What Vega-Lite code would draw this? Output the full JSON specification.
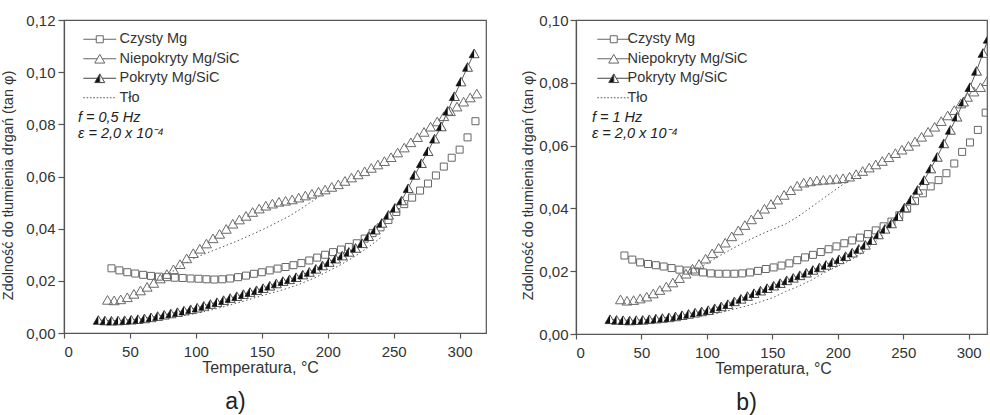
{
  "$schema": "https://vega.github.io/schema/vega-lite/v6.json",
  "background": "white",
  "padding": {"left": 0, "top": 12, "right": 0, "bottom": 0},
  "config": {
    "font": "Liberation Sans",
    "view": {"stroke": "#555", "strokeWidth": 1.2},
    "axis": {
      "grid": false,
      "domainColor": "#555",
      "domainWidth": 1.2,
      "tickColor": "#555",
      "tickWidth": 1.2,
      "labelFont": "Liberation Sans",
      "labelFontSize": 15,
      "labelColor": "#333",
      "titleFont": "Liberation Sans",
      "titleFontSize": 16,
      "titleFontWeight": "normal",
      "titleColor": "#333"
    },
    "legend": {
      "orient": "none",
      "padding": 0,
      "labelFont": "Liberation Sans",
      "labelFontSize": 14.5,
      "labelColor": "#333",
      "rowPadding": 4.5,
      "symbolSize": 49,
      "symbolStrokeWidth": 1,
      "symbolOpacity": 1
    },
    "title": {"font": "Liberation Sans", "fontSize": 23, "fontWeight": "normal", "color": "#222"}
  },
  "resolve": {
    "scale": {"shape": "independent", "fill": "independent", "stroke": "independent"},
    "legend": {"shape": "independent", "fill": "independent", "stroke": "independent"}
  },
  "spacing": 33,
  "datasets": {
    "a": [
      {"series": "Czysty Mg", "temp": 36, "value": 0.0248},
      {"series": "Czysty Mg", "temp": 42, "value": 0.0240},
      {"series": "Czysty Mg", "temp": 48, "value": 0.0233},
      {"series": "Czysty Mg", "temp": 54, "value": 0.0228},
      {"series": "Czysty Mg", "temp": 60, "value": 0.0223},
      {"series": "Czysty Mg", "temp": 66, "value": 0.0219},
      {"series": "Czysty Mg", "temp": 72, "value": 0.0216},
      {"series": "Czysty Mg", "temp": 78, "value": 0.0214},
      {"series": "Czysty Mg", "temp": 84, "value": 0.0212},
      {"series": "Czysty Mg", "temp": 90, "value": 0.0211},
      {"series": "Czysty Mg", "temp": 96, "value": 0.0209},
      {"series": "Czysty Mg", "temp": 102, "value": 0.0208},
      {"series": "Czysty Mg", "temp": 108, "value": 0.0206},
      {"series": "Czysty Mg", "temp": 114, "value": 0.0205},
      {"series": "Czysty Mg", "temp": 120, "value": 0.0206},
      {"series": "Czysty Mg", "temp": 126, "value": 0.0209},
      {"series": "Czysty Mg", "temp": 132, "value": 0.0214},
      {"series": "Czysty Mg", "temp": 138, "value": 0.0220},
      {"series": "Czysty Mg", "temp": 144, "value": 0.0227},
      {"series": "Czysty Mg", "temp": 150, "value": 0.0233},
      {"series": "Czysty Mg", "temp": 156, "value": 0.0240},
      {"series": "Czysty Mg", "temp": 162, "value": 0.0247},
      {"series": "Czysty Mg", "temp": 168, "value": 0.0253},
      {"series": "Czysty Mg", "temp": 174, "value": 0.0260},
      {"series": "Czysty Mg", "temp": 180, "value": 0.0268},
      {"series": "Czysty Mg", "temp": 186, "value": 0.0278},
      {"series": "Czysty Mg", "temp": 192, "value": 0.0289},
      {"series": "Czysty Mg", "temp": 198, "value": 0.0300},
      {"series": "Czysty Mg", "temp": 204, "value": 0.0310},
      {"series": "Czysty Mg", "temp": 210, "value": 0.0320},
      {"series": "Czysty Mg", "temp": 216, "value": 0.0330},
      {"series": "Czysty Mg", "temp": 222, "value": 0.0344},
      {"series": "Czysty Mg", "temp": 228, "value": 0.0362},
      {"series": "Czysty Mg", "temp": 234, "value": 0.0383},
      {"series": "Czysty Mg", "temp": 240, "value": 0.0405},
      {"series": "Czysty Mg", "temp": 246, "value": 0.0433},
      {"series": "Czysty Mg", "temp": 252, "value": 0.0464},
      {"series": "Czysty Mg", "temp": 258, "value": 0.0494},
      {"series": "Czysty Mg", "temp": 264, "value": 0.0519},
      {"series": "Czysty Mg", "temp": 270, "value": 0.0546},
      {"series": "Czysty Mg", "temp": 276, "value": 0.0573},
      {"series": "Czysty Mg", "temp": 282, "value": 0.0604},
      {"series": "Czysty Mg", "temp": 288, "value": 0.0638},
      {"series": "Czysty Mg", "temp": 294, "value": 0.0672},
      {"series": "Czysty Mg", "temp": 300, "value": 0.0703},
      {"series": "Czysty Mg", "temp": 306, "value": 0.0750},
      {"series": "Czysty Mg", "temp": 312, "value": 0.0812},
      {"series": "Niepokryty Mg/SiC", "temp": 33, "value": 0.0127},
      {"series": "Niepokryty Mg/SiC", "temp": 38, "value": 0.0125},
      {"series": "Niepokryty Mg/SiC", "temp": 43, "value": 0.0129},
      {"series": "Niepokryty Mg/SiC", "temp": 48, "value": 0.0137},
      {"series": "Niepokryty Mg/SiC", "temp": 53, "value": 0.0150},
      {"series": "Niepokryty Mg/SiC", "temp": 58, "value": 0.0163},
      {"series": "Niepokryty Mg/SiC", "temp": 63, "value": 0.0177},
      {"series": "Niepokryty Mg/SiC", "temp": 68, "value": 0.0192},
      {"series": "Niepokryty Mg/SiC", "temp": 73, "value": 0.0209},
      {"series": "Niepokryty Mg/SiC", "temp": 78, "value": 0.0226},
      {"series": "Niepokryty Mg/SiC", "temp": 83, "value": 0.0244},
      {"series": "Niepokryty Mg/SiC", "temp": 88, "value": 0.0264},
      {"series": "Niepokryty Mg/SiC", "temp": 93, "value": 0.0286},
      {"series": "Niepokryty Mg/SiC", "temp": 98, "value": 0.0306},
      {"series": "Niepokryty Mg/SiC", "temp": 103, "value": 0.0323},
      {"series": "Niepokryty Mg/SiC", "temp": 108, "value": 0.0343},
      {"series": "Niepokryty Mg/SiC", "temp": 113, "value": 0.0363},
      {"series": "Niepokryty Mg/SiC", "temp": 118, "value": 0.0380},
      {"series": "Niepokryty Mg/SiC", "temp": 123, "value": 0.0399},
      {"series": "Niepokryty Mg/SiC", "temp": 128, "value": 0.0419},
      {"series": "Niepokryty Mg/SiC", "temp": 133, "value": 0.0435},
      {"series": "Niepokryty Mg/SiC", "temp": 138, "value": 0.0449},
      {"series": "Niepokryty Mg/SiC", "temp": 143, "value": 0.0464},
      {"series": "Niepokryty Mg/SiC", "temp": 148, "value": 0.0477},
      {"series": "Niepokryty Mg/SiC", "temp": 153, "value": 0.0488},
      {"series": "Niepokryty Mg/SiC", "temp": 158, "value": 0.0496},
      {"series": "Niepokryty Mg/SiC", "temp": 163, "value": 0.0503},
      {"series": "Niepokryty Mg/SiC", "temp": 168, "value": 0.0507},
      {"series": "Niepokryty Mg/SiC", "temp": 173, "value": 0.0512},
      {"series": "Niepokryty Mg/SiC", "temp": 178, "value": 0.0519},
      {"series": "Niepokryty Mg/SiC", "temp": 183, "value": 0.0527},
      {"series": "Niepokryty Mg/SiC", "temp": 188, "value": 0.0534},
      {"series": "Niepokryty Mg/SiC", "temp": 193, "value": 0.0542},
      {"series": "Niepokryty Mg/SiC", "temp": 198, "value": 0.0550},
      {"series": "Niepokryty Mg/SiC", "temp": 203, "value": 0.0560},
      {"series": "Niepokryty Mg/SiC", "temp": 208, "value": 0.0570},
      {"series": "Niepokryty Mg/SiC", "temp": 213, "value": 0.0583},
      {"series": "Niepokryty Mg/SiC", "temp": 218, "value": 0.0596},
      {"series": "Niepokryty Mg/SiC", "temp": 223, "value": 0.0608},
      {"series": "Niepokryty Mg/SiC", "temp": 228, "value": 0.0620},
      {"series": "Niepokryty Mg/SiC", "temp": 233, "value": 0.0633},
      {"series": "Niepokryty Mg/SiC", "temp": 238, "value": 0.0646},
      {"series": "Niepokryty Mg/SiC", "temp": 243, "value": 0.0659},
      {"series": "Niepokryty Mg/SiC", "temp": 248, "value": 0.0674},
      {"series": "Niepokryty Mg/SiC", "temp": 253, "value": 0.0692},
      {"series": "Niepokryty Mg/SiC", "temp": 258, "value": 0.0711},
      {"series": "Niepokryty Mg/SiC", "temp": 263, "value": 0.0731},
      {"series": "Niepokryty Mg/SiC", "temp": 268, "value": 0.0751},
      {"series": "Niepokryty Mg/SiC", "temp": 273, "value": 0.0771},
      {"series": "Niepokryty Mg/SiC", "temp": 278, "value": 0.0791},
      {"series": "Niepokryty Mg/SiC", "temp": 283, "value": 0.0811},
      {"series": "Niepokryty Mg/SiC", "temp": 288, "value": 0.0831},
      {"series": "Niepokryty Mg/SiC", "temp": 293, "value": 0.0850},
      {"series": "Niepokryty Mg/SiC", "temp": 298, "value": 0.0868},
      {"series": "Niepokryty Mg/SiC", "temp": 303, "value": 0.0887},
      {"series": "Niepokryty Mg/SiC", "temp": 308, "value": 0.0903},
      {"series": "Niepokryty Mg/SiC", "temp": 313, "value": 0.0918},
      {"series": "Pokryty Mg/SiC", "temp": 26, "value": 0.0050},
      {"series": "Pokryty Mg/SiC", "temp": 31, "value": 0.0048},
      {"series": "Pokryty Mg/SiC", "temp": 36, "value": 0.0047},
      {"series": "Pokryty Mg/SiC", "temp": 41, "value": 0.0048},
      {"series": "Pokryty Mg/SiC", "temp": 46, "value": 0.0049},
      {"series": "Pokryty Mg/SiC", "temp": 51, "value": 0.0051},
      {"series": "Pokryty Mg/SiC", "temp": 56, "value": 0.0053},
      {"series": "Pokryty Mg/SiC", "temp": 61, "value": 0.0056},
      {"series": "Pokryty Mg/SiC", "temp": 66, "value": 0.0060},
      {"series": "Pokryty Mg/SiC", "temp": 71, "value": 0.0065},
      {"series": "Pokryty Mg/SiC", "temp": 76, "value": 0.0070},
      {"series": "Pokryty Mg/SiC", "temp": 81, "value": 0.0075},
      {"series": "Pokryty Mg/SiC", "temp": 86, "value": 0.0080},
      {"series": "Pokryty Mg/SiC", "temp": 91, "value": 0.0086},
      {"series": "Pokryty Mg/SiC", "temp": 96, "value": 0.0091},
      {"series": "Pokryty Mg/SiC", "temp": 101, "value": 0.0097},
      {"series": "Pokryty Mg/SiC", "temp": 106, "value": 0.0104},
      {"series": "Pokryty Mg/SiC", "temp": 111, "value": 0.0111},
      {"series": "Pokryty Mg/SiC", "temp": 116, "value": 0.0118},
      {"series": "Pokryty Mg/SiC", "temp": 121, "value": 0.0126},
      {"series": "Pokryty Mg/SiC", "temp": 126, "value": 0.0134},
      {"series": "Pokryty Mg/SiC", "temp": 131, "value": 0.0141},
      {"series": "Pokryty Mg/SiC", "temp": 136, "value": 0.0149},
      {"series": "Pokryty Mg/SiC", "temp": 141, "value": 0.0157},
      {"series": "Pokryty Mg/SiC", "temp": 146, "value": 0.0164},
      {"series": "Pokryty Mg/SiC", "temp": 151, "value": 0.0172},
      {"series": "Pokryty Mg/SiC", "temp": 156, "value": 0.0181},
      {"series": "Pokryty Mg/SiC", "temp": 161, "value": 0.0190},
      {"series": "Pokryty Mg/SiC", "temp": 166, "value": 0.0199},
      {"series": "Pokryty Mg/SiC", "temp": 171, "value": 0.0206},
      {"series": "Pokryty Mg/SiC", "temp": 176, "value": 0.0214},
      {"series": "Pokryty Mg/SiC", "temp": 181, "value": 0.0224},
      {"series": "Pokryty Mg/SiC", "temp": 186, "value": 0.0234},
      {"series": "Pokryty Mg/SiC", "temp": 191, "value": 0.0246},
      {"series": "Pokryty Mg/SiC", "temp": 196, "value": 0.0259},
      {"series": "Pokryty Mg/SiC", "temp": 201, "value": 0.0272},
      {"series": "Pokryty Mg/SiC", "temp": 206, "value": 0.0285},
      {"series": "Pokryty Mg/SiC", "temp": 211, "value": 0.0297},
      {"series": "Pokryty Mg/SiC", "temp": 216, "value": 0.0311},
      {"series": "Pokryty Mg/SiC", "temp": 221, "value": 0.0326},
      {"series": "Pokryty Mg/SiC", "temp": 226, "value": 0.0344},
      {"series": "Pokryty Mg/SiC", "temp": 231, "value": 0.0371},
      {"series": "Pokryty Mg/SiC", "temp": 236, "value": 0.0396},
      {"series": "Pokryty Mg/SiC", "temp": 241, "value": 0.0422},
      {"series": "Pokryty Mg/SiC", "temp": 246, "value": 0.0453},
      {"series": "Pokryty Mg/SiC", "temp": 251, "value": 0.0480},
      {"series": "Pokryty Mg/SiC", "temp": 256, "value": 0.0508},
      {"series": "Pokryty Mg/SiC", "temp": 261, "value": 0.0555},
      {"series": "Pokryty Mg/SiC", "temp": 266, "value": 0.0606},
      {"series": "Pokryty Mg/SiC", "temp": 271, "value": 0.0651},
      {"series": "Pokryty Mg/SiC", "temp": 276, "value": 0.0697},
      {"series": "Pokryty Mg/SiC", "temp": 281, "value": 0.0745},
      {"series": "Pokryty Mg/SiC", "temp": 286, "value": 0.0792},
      {"series": "Pokryty Mg/SiC", "temp": 291, "value": 0.0852},
      {"series": "Pokryty Mg/SiC", "temp": 296, "value": 0.0908},
      {"series": "Pokryty Mg/SiC", "temp": 301, "value": 0.0964},
      {"series": "Pokryty Mg/SiC", "temp": 306, "value": 0.1020},
      {"series": "Pokryty Mg/SiC", "temp": 311, "value": 0.1072},
      {"series": "Tło", "segment": "upper", "temp": 80, "value": 0.0228},
      {"series": "Tło", "segment": "upper", "temp": 90, "value": 0.0262},
      {"series": "Tło", "segment": "upper", "temp": 100, "value": 0.0290},
      {"series": "Tło", "segment": "upper", "temp": 110, "value": 0.0310},
      {"series": "Tło", "segment": "upper", "temp": 120, "value": 0.0330},
      {"series": "Tło", "segment": "upper", "temp": 130, "value": 0.0350},
      {"series": "Tło", "segment": "upper", "temp": 140, "value": 0.0372},
      {"series": "Tło", "segment": "upper", "temp": 150, "value": 0.0395},
      {"series": "Tło", "segment": "upper", "temp": 160, "value": 0.0420},
      {"series": "Tło", "segment": "upper", "temp": 170, "value": 0.0446},
      {"series": "Tło", "segment": "upper", "temp": 180, "value": 0.0477},
      {"series": "Tło", "segment": "upper", "temp": 190, "value": 0.0511},
      {"series": "Tło", "segment": "upper", "temp": 200, "value": 0.0550},
      {"series": "Tło", "segment": "lower", "temp": 70, "value": 0.0052},
      {"series": "Tło", "segment": "lower", "temp": 80, "value": 0.0059},
      {"series": "Tło", "segment": "lower", "temp": 90, "value": 0.0066},
      {"series": "Tło", "segment": "lower", "temp": 100, "value": 0.0075},
      {"series": "Tło", "segment": "lower", "temp": 110, "value": 0.0086},
      {"series": "Tło", "segment": "lower", "temp": 120, "value": 0.0099},
      {"series": "Tło", "segment": "lower", "temp": 130, "value": 0.0113},
      {"series": "Tło", "segment": "lower", "temp": 140, "value": 0.0128},
      {"series": "Tło", "segment": "lower", "temp": 150, "value": 0.0143},
      {"series": "Tło", "segment": "lower", "temp": 160, "value": 0.0157},
      {"series": "Tło", "segment": "lower", "temp": 170, "value": 0.0172},
      {"series": "Tło", "segment": "lower", "temp": 180, "value": 0.0190},
      {"series": "Tło", "segment": "lower", "temp": 190, "value": 0.0211},
      {"series": "Tło", "segment": "lower", "temp": 200, "value": 0.0236},
      {"series": "Tło", "segment": "lower", "temp": 210, "value": 0.0262},
      {"series": "Tło", "segment": "lower", "temp": 220, "value": 0.0292},
      {"series": "Tło", "segment": "lower", "temp": 230, "value": 0.0326},
      {"series": "Tło", "segment": "lower", "temp": 240, "value": 0.0365}
    ],
    "b": [
      {"series": "Czysty Mg", "temp": 37, "value": 0.0250},
      {"series": "Czysty Mg", "temp": 43, "value": 0.0237},
      {"series": "Czysty Mg", "temp": 49, "value": 0.0228},
      {"series": "Czysty Mg", "temp": 55, "value": 0.0223},
      {"series": "Czysty Mg", "temp": 61, "value": 0.0219},
      {"series": "Czysty Mg", "temp": 67, "value": 0.0215},
      {"series": "Czysty Mg", "temp": 73, "value": 0.0210},
      {"series": "Czysty Mg", "temp": 79, "value": 0.0205},
      {"series": "Czysty Mg", "temp": 85, "value": 0.0202},
      {"series": "Czysty Mg", "temp": 91, "value": 0.0199},
      {"series": "Czysty Mg", "temp": 97, "value": 0.0196},
      {"series": "Czysty Mg", "temp": 103, "value": 0.0193},
      {"series": "Czysty Mg", "temp": 109, "value": 0.0192},
      {"series": "Czysty Mg", "temp": 115, "value": 0.0192},
      {"series": "Czysty Mg", "temp": 121, "value": 0.0192},
      {"series": "Czysty Mg", "temp": 127, "value": 0.0193},
      {"series": "Czysty Mg", "temp": 133, "value": 0.0196},
      {"series": "Czysty Mg", "temp": 139, "value": 0.0201},
      {"series": "Czysty Mg", "temp": 145, "value": 0.0207},
      {"series": "Czysty Mg", "temp": 151, "value": 0.0212},
      {"series": "Czysty Mg", "temp": 157, "value": 0.0218},
      {"series": "Czysty Mg", "temp": 163, "value": 0.0225},
      {"series": "Czysty Mg", "temp": 169, "value": 0.0235},
      {"series": "Czysty Mg", "temp": 175, "value": 0.0244},
      {"series": "Czysty Mg", "temp": 181, "value": 0.0252},
      {"series": "Czysty Mg", "temp": 187, "value": 0.0261},
      {"series": "Czysty Mg", "temp": 193, "value": 0.0270},
      {"series": "Czysty Mg", "temp": 199, "value": 0.0279},
      {"series": "Czysty Mg", "temp": 205, "value": 0.0289},
      {"series": "Czysty Mg", "temp": 211, "value": 0.0298},
      {"series": "Czysty Mg", "temp": 217, "value": 0.0307},
      {"series": "Czysty Mg", "temp": 223, "value": 0.0318},
      {"series": "Czysty Mg", "temp": 229, "value": 0.0330},
      {"series": "Czysty Mg", "temp": 235, "value": 0.0343},
      {"series": "Czysty Mg", "temp": 241, "value": 0.0358},
      {"series": "Czysty Mg", "temp": 247, "value": 0.0378},
      {"series": "Czysty Mg", "temp": 253, "value": 0.0399},
      {"series": "Czysty Mg", "temp": 259, "value": 0.0423},
      {"series": "Czysty Mg", "temp": 265, "value": 0.0448},
      {"series": "Czysty Mg", "temp": 271, "value": 0.0470},
      {"series": "Czysty Mg", "temp": 277, "value": 0.0490},
      {"series": "Czysty Mg", "temp": 283, "value": 0.0512},
      {"series": "Czysty Mg", "temp": 289, "value": 0.0543},
      {"series": "Czysty Mg", "temp": 295, "value": 0.0580},
      {"series": "Czysty Mg", "temp": 301, "value": 0.0610},
      {"series": "Czysty Mg", "temp": 307, "value": 0.0650},
      {"series": "Czysty Mg", "temp": 313, "value": 0.0705},
      {"series": "Niepokryty Mg/SiC", "temp": 34, "value": 0.0110},
      {"series": "Niepokryty Mg/SiC", "temp": 39, "value": 0.0106},
      {"series": "Niepokryty Mg/SiC", "temp": 44, "value": 0.0108},
      {"series": "Niepokryty Mg/SiC", "temp": 49, "value": 0.0113},
      {"series": "Niepokryty Mg/SiC", "temp": 54, "value": 0.0119},
      {"series": "Niepokryty Mg/SiC", "temp": 59, "value": 0.0129},
      {"series": "Niepokryty Mg/SiC", "temp": 64, "value": 0.0140},
      {"series": "Niepokryty Mg/SiC", "temp": 69, "value": 0.0151},
      {"series": "Niepokryty Mg/SiC", "temp": 74, "value": 0.0164},
      {"series": "Niepokryty Mg/SiC", "temp": 79, "value": 0.0178},
      {"series": "Niepokryty Mg/SiC", "temp": 84, "value": 0.0192},
      {"series": "Niepokryty Mg/SiC", "temp": 89, "value": 0.0208},
      {"series": "Niepokryty Mg/SiC", "temp": 94, "value": 0.0223},
      {"series": "Niepokryty Mg/SiC", "temp": 99, "value": 0.0240},
      {"series": "Niepokryty Mg/SiC", "temp": 104, "value": 0.0257},
      {"series": "Niepokryty Mg/SiC", "temp": 109, "value": 0.0274},
      {"series": "Niepokryty Mg/SiC", "temp": 114, "value": 0.0291},
      {"series": "Niepokryty Mg/SiC", "temp": 119, "value": 0.0311},
      {"series": "Niepokryty Mg/SiC", "temp": 124, "value": 0.0330},
      {"series": "Niepokryty Mg/SiC", "temp": 129, "value": 0.0347},
      {"series": "Niepokryty Mg/SiC", "temp": 134, "value": 0.0365},
      {"series": "Niepokryty Mg/SiC", "temp": 139, "value": 0.0382},
      {"series": "Niepokryty Mg/SiC", "temp": 144, "value": 0.0399},
      {"series": "Niepokryty Mg/SiC", "temp": 149, "value": 0.0414},
      {"series": "Niepokryty Mg/SiC", "temp": 154, "value": 0.0428},
      {"series": "Niepokryty Mg/SiC", "temp": 159, "value": 0.0443},
      {"series": "Niepokryty Mg/SiC", "temp": 164, "value": 0.0458},
      {"series": "Niepokryty Mg/SiC", "temp": 169, "value": 0.0472},
      {"series": "Niepokryty Mg/SiC", "temp": 174, "value": 0.0482},
      {"series": "Niepokryty Mg/SiC", "temp": 179, "value": 0.0486},
      {"series": "Niepokryty Mg/SiC", "temp": 184, "value": 0.0489},
      {"series": "Niepokryty Mg/SiC", "temp": 189, "value": 0.0491},
      {"series": "Niepokryty Mg/SiC", "temp": 194, "value": 0.0492},
      {"series": "Niepokryty Mg/SiC", "temp": 199, "value": 0.0494},
      {"series": "Niepokryty Mg/SiC", "temp": 204, "value": 0.0496},
      {"series": "Niepokryty Mg/SiC", "temp": 209, "value": 0.0501},
      {"series": "Niepokryty Mg/SiC", "temp": 214, "value": 0.0509},
      {"series": "Niepokryty Mg/SiC", "temp": 219, "value": 0.0519},
      {"series": "Niepokryty Mg/SiC", "temp": 224, "value": 0.0530},
      {"series": "Niepokryty Mg/SiC", "temp": 229, "value": 0.0540},
      {"series": "Niepokryty Mg/SiC", "temp": 234, "value": 0.0551},
      {"series": "Niepokryty Mg/SiC", "temp": 239, "value": 0.0563},
      {"series": "Niepokryty Mg/SiC", "temp": 244, "value": 0.0576},
      {"series": "Niepokryty Mg/SiC", "temp": 249, "value": 0.0587},
      {"series": "Niepokryty Mg/SiC", "temp": 254, "value": 0.0599},
      {"series": "Niepokryty Mg/SiC", "temp": 259, "value": 0.0613},
      {"series": "Niepokryty Mg/SiC", "temp": 264, "value": 0.0628},
      {"series": "Niepokryty Mg/SiC", "temp": 269, "value": 0.0644},
      {"series": "Niepokryty Mg/SiC", "temp": 274, "value": 0.0660},
      {"series": "Niepokryty Mg/SiC", "temp": 279, "value": 0.0678},
      {"series": "Niepokryty Mg/SiC", "temp": 284, "value": 0.0696},
      {"series": "Niepokryty Mg/SiC", "temp": 289, "value": 0.0713},
      {"series": "Niepokryty Mg/SiC", "temp": 294, "value": 0.0734},
      {"series": "Niepokryty Mg/SiC", "temp": 299, "value": 0.0755},
      {"series": "Niepokryty Mg/SiC", "temp": 304, "value": 0.0772},
      {"series": "Niepokryty Mg/SiC", "temp": 309, "value": 0.0786},
      {"series": "Niepokryty Mg/SiC", "temp": 314, "value": 0.0805},
      {"series": "Pokryty Mg/SiC", "temp": 26, "value": 0.0047},
      {"series": "Pokryty Mg/SiC", "temp": 31, "value": 0.0045},
      {"series": "Pokryty Mg/SiC", "temp": 36, "value": 0.0044},
      {"series": "Pokryty Mg/SiC", "temp": 41, "value": 0.0043},
      {"series": "Pokryty Mg/SiC", "temp": 46, "value": 0.0044},
      {"series": "Pokryty Mg/SiC", "temp": 51, "value": 0.0045},
      {"series": "Pokryty Mg/SiC", "temp": 56, "value": 0.0047},
      {"series": "Pokryty Mg/SiC", "temp": 61, "value": 0.0049},
      {"series": "Pokryty Mg/SiC", "temp": 66, "value": 0.0051},
      {"series": "Pokryty Mg/SiC", "temp": 71, "value": 0.0053},
      {"series": "Pokryty Mg/SiC", "temp": 76, "value": 0.0056},
      {"series": "Pokryty Mg/SiC", "temp": 81, "value": 0.0060},
      {"series": "Pokryty Mg/SiC", "temp": 86, "value": 0.0064},
      {"series": "Pokryty Mg/SiC", "temp": 91, "value": 0.0068},
      {"series": "Pokryty Mg/SiC", "temp": 96, "value": 0.0072},
      {"series": "Pokryty Mg/SiC", "temp": 101, "value": 0.0076},
      {"series": "Pokryty Mg/SiC", "temp": 106, "value": 0.0082},
      {"series": "Pokryty Mg/SiC", "temp": 111, "value": 0.0088},
      {"series": "Pokryty Mg/SiC", "temp": 116, "value": 0.0095},
      {"series": "Pokryty Mg/SiC", "temp": 121, "value": 0.0104},
      {"series": "Pokryty Mg/SiC", "temp": 126, "value": 0.0112},
      {"series": "Pokryty Mg/SiC", "temp": 131, "value": 0.0121},
      {"series": "Pokryty Mg/SiC", "temp": 136, "value": 0.0130},
      {"series": "Pokryty Mg/SiC", "temp": 141, "value": 0.0138},
      {"series": "Pokryty Mg/SiC", "temp": 146, "value": 0.0146},
      {"series": "Pokryty Mg/SiC", "temp": 151, "value": 0.0154},
      {"series": "Pokryty Mg/SiC", "temp": 156, "value": 0.0162},
      {"series": "Pokryty Mg/SiC", "temp": 161, "value": 0.0171},
      {"series": "Pokryty Mg/SiC", "temp": 166, "value": 0.0179},
      {"series": "Pokryty Mg/SiC", "temp": 171, "value": 0.0187},
      {"series": "Pokryty Mg/SiC", "temp": 176, "value": 0.0195},
      {"series": "Pokryty Mg/SiC", "temp": 181, "value": 0.0204},
      {"series": "Pokryty Mg/SiC", "temp": 186, "value": 0.0212},
      {"series": "Pokryty Mg/SiC", "temp": 191, "value": 0.0220},
      {"series": "Pokryty Mg/SiC", "temp": 196, "value": 0.0229},
      {"series": "Pokryty Mg/SiC", "temp": 201, "value": 0.0238},
      {"series": "Pokryty Mg/SiC", "temp": 206, "value": 0.0248},
      {"series": "Pokryty Mg/SiC", "temp": 211, "value": 0.0259},
      {"series": "Pokryty Mg/SiC", "temp": 216, "value": 0.0271},
      {"series": "Pokryty Mg/SiC", "temp": 221, "value": 0.0284},
      {"series": "Pokryty Mg/SiC", "temp": 226, "value": 0.0299},
      {"series": "Pokryty Mg/SiC", "temp": 231, "value": 0.0317},
      {"series": "Pokryty Mg/SiC", "temp": 236, "value": 0.0335},
      {"series": "Pokryty Mg/SiC", "temp": 241, "value": 0.0352},
      {"series": "Pokryty Mg/SiC", "temp": 246, "value": 0.0375},
      {"series": "Pokryty Mg/SiC", "temp": 251, "value": 0.0403},
      {"series": "Pokryty Mg/SiC", "temp": 256, "value": 0.0428},
      {"series": "Pokryty Mg/SiC", "temp": 261, "value": 0.0459},
      {"series": "Pokryty Mg/SiC", "temp": 266, "value": 0.0490},
      {"series": "Pokryty Mg/SiC", "temp": 271, "value": 0.0527},
      {"series": "Pokryty Mg/SiC", "temp": 276, "value": 0.0564},
      {"series": "Pokryty Mg/SiC", "temp": 281, "value": 0.0607},
      {"series": "Pokryty Mg/SiC", "temp": 286, "value": 0.0650},
      {"series": "Pokryty Mg/SiC", "temp": 291, "value": 0.0692},
      {"series": "Pokryty Mg/SiC", "temp": 296, "value": 0.0740},
      {"series": "Pokryty Mg/SiC", "temp": 301, "value": 0.0786},
      {"series": "Pokryty Mg/SiC", "temp": 306, "value": 0.0838},
      {"series": "Pokryty Mg/SiC", "temp": 311, "value": 0.0895},
      {"series": "Pokryty Mg/SiC", "temp": 315, "value": 0.0940},
      {"series": "Tło", "segment": "upper", "temp": 92, "value": 0.0205},
      {"series": "Tło", "segment": "upper", "temp": 100, "value": 0.0225},
      {"series": "Tło", "segment": "upper", "temp": 110, "value": 0.0250},
      {"series": "Tło", "segment": "upper", "temp": 120, "value": 0.0273},
      {"series": "Tło", "segment": "upper", "temp": 130, "value": 0.0295},
      {"series": "Tło", "segment": "upper", "temp": 140, "value": 0.0315},
      {"series": "Tło", "segment": "upper", "temp": 150, "value": 0.0333},
      {"series": "Tło", "segment": "upper", "temp": 160, "value": 0.0350},
      {"series": "Tło", "segment": "upper", "temp": 170, "value": 0.0375},
      {"series": "Tło", "segment": "upper", "temp": 180, "value": 0.0405},
      {"series": "Tło", "segment": "upper", "temp": 190, "value": 0.0435},
      {"series": "Tło", "segment": "upper", "temp": 200, "value": 0.0465},
      {"series": "Tło", "segment": "upper", "temp": 210, "value": 0.0493},
      {"series": "Tło", "segment": "upper", "temp": 220, "value": 0.0522},
      {"series": "Tło", "segment": "lower", "temp": 65, "value": 0.0040},
      {"series": "Tło", "segment": "lower", "temp": 70, "value": 0.0042},
      {"series": "Tło", "segment": "lower", "temp": 80, "value": 0.0047},
      {"series": "Tło", "segment": "lower", "temp": 90, "value": 0.0053},
      {"series": "Tło", "segment": "lower", "temp": 100, "value": 0.0060},
      {"series": "Tło", "segment": "lower", "temp": 110, "value": 0.0068},
      {"series": "Tło", "segment": "lower", "temp": 120, "value": 0.0078},
      {"series": "Tło", "segment": "lower", "temp": 130, "value": 0.0089},
      {"series": "Tło", "segment": "lower", "temp": 140, "value": 0.0101},
      {"series": "Tło", "segment": "lower", "temp": 150, "value": 0.0115},
      {"series": "Tło", "segment": "lower", "temp": 160, "value": 0.0135},
      {"series": "Tło", "segment": "lower", "temp": 170, "value": 0.0152},
      {"series": "Tło", "segment": "lower", "temp": 180, "value": 0.0172},
      {"series": "Tło", "segment": "lower", "temp": 190, "value": 0.0196},
      {"series": "Tło", "segment": "lower", "temp": 200, "value": 0.0216},
      {"series": "Tło", "segment": "lower", "temp": 210, "value": 0.0236},
      {"series": "Tło", "segment": "lower", "temp": 220, "value": 0.0262},
      {"series": "Tło", "segment": "lower", "temp": 230, "value": 0.0298},
      {"series": "Tło", "segment": "lower", "temp": 240, "value": 0.0340}
    ]
  },
  "hconcat": [
    {
      "width": 422,
      "height": 313,
      "title": {"text": "a)", "orient": "bottom", "anchor": "middle", "frame": "bounds", "offset": 16, "dx": -8},
      "data": {"name": "a"},
      "layer": [
        {
          "transform": [{"filter": "datum.series === 'Tło'"}],
          "mark": {"type": "line", "stroke": "#555", "strokeWidth": 1, "strokeDash": [1.5, 2.5]},
          "encoding": {
            "x": {
              "field": "temp", "type": "quantitative",
              "scale": {"domain": [0, 320], "nice": false},
              "axis": {
                "title": "Temperatura, °C",
                "values": [0, 25, 50, 75, 100, 125, 150, 175, 200, 225, 250, 275, 300],
                "labelExpr": "datum.value % 50 === 0 ? datum.label : ''",
                "tickSize": {"condition": {"test": "datum.value % 50 !== 0", "value": 3}, "value": 5},
                "labelPadding": 6,
                "titleX": 196,
                "titleY": 26
              }
            },
            "y": {
              "field": "value", "type": "quantitative",
              "scale": {"domain": [0, 0.12], "nice": false},
              "axis": {
                "title": "Zdolność do tłumienia drgań (tan φ)",
                "titleFontSize": 14.5,
                "values": [0, 0.01, 0.02, 0.03, 0.04, 0.05, 0.06, 0.07, 0.08, 0.09, 0.1, 0.11, 0.12],
                "labelExpr": "round(datum.value * 100) % 2 === 0 ? replace(format(datum.value, '.2f'), '.', ',') : ''",
                "tickSize": {"condition": {"test": "round(datum.value * 100) % 2 === 1", "value": 3}, "value": 6},
                "labelPadding": 3,
                "titlePadding": 10,
                "titleY": 165
              }
            },
            "detail": {"field": "segment"}
          }
        },
        {
          "transform": [{"filter": "datum.series === 'Pokryty Mg/SiC'"}],
          "mark": {"type": "line", "stroke": "#333", "strokeWidth": 0.8},
          "encoding": {"x": {"field": "temp", "type": "quantitative"}, "y": {"field": "value", "type": "quantitative"}}
        },
        {
          "transform": [{"filter": "datum.series === 'Czysty Mg'"}],
          "mark": {"type": "point", "shape": "square", "size": 49, "filled": false, "stroke": "#666", "strokeWidth": 1, "opacity": 1},
          "encoding": {"x": {"field": "temp", "type": "quantitative"}, "y": {"field": "value", "type": "quantitative"}}
        },
        {
          "transform": [{"filter": "datum.series === 'Niepokryty Mg/SiC'"}],
          "mark": {"type": "point", "shape": "triangle-up", "size": 100, "filled": false, "stroke": "#6a6a6a", "strokeWidth": 1, "opacity": 1},
          "encoding": {"x": {"field": "temp", "type": "quantitative"}, "y": {"field": "value", "type": "quantitative"}}
        },
        {
          "transform": [{"filter": "datum.series === 'Pokryty Mg/SiC'"}],
          "mark": {"type": "point", "shape": "triangle-up", "size": 100, "filled": true, "fill": "white", "stroke": "#555", "strokeWidth": 1, "opacity": 1},
          "encoding": {"x": {"field": "temp", "type": "quantitative"}, "y": {"field": "value", "type": "quantitative"}}
        },
        {
          "transform": [{"filter": "datum.series === 'Pokryty Mg/SiC'"}],
          "mark": {"type": "point", "shape": "M0,-0.866L-1,0.866L0,0.866Z", "size": 100, "filled": true, "fill": "#111", "strokeWidth": 0, "opacity": 1},
          "encoding": {"x": {"field": "temp", "type": "quantitative"}, "y": {"field": "value", "type": "quantitative"}}
        },
        {
          "mark": {"type": "point", "size": 0, "filled": true, "strokeWidth": 1, "opacity": 1},
          "encoding": {
            "x": {"field": "temp", "type": "quantitative"},
            "y": {"field": "value", "type": "quantitative"},
            "shape": {
              "field": "series", "type": "nominal",
              "scale": {
                "domain": ["Czysty Mg", "Niepokryty Mg/SiC", "Pokryty Mg/SiC", "Tło"],
                "range": [
                  "M-4.7,0H-1M1,0H4.7M-1,-1H1V1H-1Z",
                  "M-4.7,0H-0.72M0.72,0H4.7M0,-1.24L1.43,1.24H-1.43Z",
                  "M-4.7,0H-0.72M0.72,0H4.7M0,-1.24L-1.43,1.24H0ZM0,-1.24L1.43,1.24M1.43,1.24L0,1.24",
                  "M-4.7,0h0.45m0.5,0h0.45m0.5,0h0.45m0.5,0h0.45m0.5,0h0.45m0.5,0h0.45m0.5,0h0.45m0.5,0h0.45m0.5,0h0.45m0.5,0h0.45"
                ]
              },
              "legend": {"title": null, "legendX": 28.5, "legendY": 12, "labelOffset": 12.5}
            },
            "fill": {
              "field": "series", "type": "nominal",
              "scale": {
                "domain": ["Czysty Mg", "Niepokryty Mg/SiC", "Pokryty Mg/SiC", "Tło"],
                "range": ["white", "white", "#111", "transparent"]
              },
              "legend": {"title": null, "legendX": 28.5, "legendY": 12, "labelOffset": 12.5}
            },
            "stroke": {
              "field": "series", "type": "nominal",
              "scale": {
                "domain": ["Czysty Mg", "Niepokryty Mg/SiC", "Pokryty Mg/SiC", "Tło"],
                "range": ["#666", "#666", "#444", "#555"]
              },
              "legend": {"title": null, "legendX": 28.5, "legendY": 12, "labelOffset": 12.5}
            }
          }
        },
        {
          "data": {"values": [{"note": "f = 0,5 Hz"}]},
          "mark": {"type": "text", "align": "left", "baseline": "alphabetic", "fontSize": 14.5, "fontStyle": "italic", "color": "#222"},
          "encoding": {
            "x": {"datum": 10.6, "type": "quantitative"},
            "y": {"datum": 0.0809, "type": "quantitative"},
            "text": {"field": "note"}
          }
        },
        {
          "data": {"values": [{"note": "ε = 2,0 x 10⁻⁴"}]},
          "mark": {"type": "text", "align": "left", "baseline": "alphabetic", "fontSize": 14.5, "fontStyle": "italic", "color": "#222"},
          "encoding": {
            "x": {"datum": 10.6, "type": "quantitative"},
            "y": {"datum": 0.0748, "type": "quantitative"},
            "text": {"field": "note"}
          }
        }
      ]
    },
    {
      "width": 411,
      "height": 314,
      "title": {"text": "b)", "orient": "bottom", "anchor": "middle", "frame": "bounds", "offset": 16, "dx": -9},
      "data": {"name": "b"},
      "layer": [
        {
          "transform": [{"filter": "datum.series === 'Tło'"}],
          "mark": {"type": "line", "stroke": "#555", "strokeWidth": 1, "strokeDash": [1.5, 2.5]},
          "encoding": {
            "x": {
              "field": "temp", "type": "quantitative",
              "scale": {"domain": [0, 314], "nice": false},
              "axis": {
                "title": "Temperatura, °C",
                "values": [0, 25, 50, 75, 100, 125, 150, 175, 200, 225, 250, 275, 300],
                "labelExpr": "datum.value % 50 === 0 ? datum.label : ''",
                "tickSize": {"condition": {"test": "datum.value % 50 !== 0", "value": 3}, "value": 5},
                "labelPadding": 6,
                "titleX": 197,
                "titleY": 26
              }
            },
            "y": {
              "field": "value", "type": "quantitative",
              "scale": {"domain": [0, 0.1], "nice": false},
              "axis": {
                "title": "Zdolność do tłumienia drgań (tan φ)",
                "titleFontSize": 14.5,
                "values": [0, 0.01, 0.02, 0.03, 0.04, 0.05, 0.06, 0.07, 0.08, 0.09, 0.1],
                "labelExpr": "round(datum.value * 100) % 2 === 0 ? replace(format(datum.value, '.2f'), '.', ',') : ''",
                "tickSize": {"condition": {"test": "round(datum.value * 100) % 2 === 1", "value": 3}, "value": 6},
                "labelPadding": 2,
                "titlePadding": 3,
                "titleY": 165
              }
            },
            "detail": {"field": "segment"}
          }
        },
        {
          "transform": [{"filter": "datum.series === 'Pokryty Mg/SiC'"}],
          "mark": {"type": "line", "stroke": "#333", "strokeWidth": 0.8, "clip": true},
          "encoding": {"x": {"field": "temp", "type": "quantitative"}, "y": {"field": "value", "type": "quantitative"}}
        },
        {
          "transform": [{"filter": "datum.series === 'Czysty Mg'"}],
          "mark": {"type": "point", "shape": "square", "size": 49, "filled": false, "stroke": "#666", "strokeWidth": 1, "opacity": 1, "clip": true},
          "encoding": {"x": {"field": "temp", "type": "quantitative"}, "y": {"field": "value", "type": "quantitative"}}
        },
        {
          "transform": [{"filter": "datum.series === 'Niepokryty Mg/SiC'"}],
          "mark": {"type": "point", "shape": "triangle-up", "size": 100, "filled": false, "stroke": "#6a6a6a", "strokeWidth": 1, "opacity": 1, "clip": true},
          "encoding": {"x": {"field": "temp", "type": "quantitative"}, "y": {"field": "value", "type": "quantitative"}}
        },
        {
          "transform": [{"filter": "datum.series === 'Pokryty Mg/SiC'"}],
          "mark": {"type": "point", "shape": "triangle-up", "size": 100, "filled": true, "fill": "white", "stroke": "#555", "strokeWidth": 1, "opacity": 1, "clip": true},
          "encoding": {"x": {"field": "temp", "type": "quantitative"}, "y": {"field": "value", "type": "quantitative"}}
        },
        {
          "transform": [{"filter": "datum.series === 'Pokryty Mg/SiC'"}],
          "mark": {"type": "point", "shape": "M0,-0.866L-1,0.866L0,0.866Z", "size": 100, "filled": true, "fill": "#111", "strokeWidth": 0, "opacity": 1, "clip": true},
          "encoding": {"x": {"field": "temp", "type": "quantitative"}, "y": {"field": "value", "type": "quantitative"}}
        },
        {
          "mark": {"type": "point", "size": 0, "filled": true, "strokeWidth": 1, "opacity": 1},
          "encoding": {
            "x": {"field": "temp", "type": "quantitative"},
            "y": {"field": "value", "type": "quantitative"},
            "shape": {
              "field": "series", "type": "nominal",
              "scale": {
                "domain": ["Czysty Mg", "Niepokryty Mg/SiC", "Pokryty Mg/SiC", "Tło"],
                "range": [
                  "M-4.7,0H-1M1,0H4.7M-1,-1H1V1H-1Z",
                  "M-4.7,0H-0.72M0.72,0H4.7M0,-1.24L1.43,1.24H-1.43Z",
                  "M-4.7,0H-0.72M0.72,0H4.7M0,-1.24L-1.43,1.24H0ZM0,-1.24L1.43,1.24M1.43,1.24L0,1.24",
                  "M-4.7,0h0.45m0.5,0h0.45m0.5,0h0.45m0.5,0h0.45m0.5,0h0.45m0.5,0h0.45m0.5,0h0.45m0.5,0h0.45m0.5,0h0.45m0.5,0h0.45"
                ]
              },
              "legend": {"title": null, "legendX": 30.5, "legendY": 12, "labelOffset": 6.5}
            },
            "fill": {
              "field": "series", "type": "nominal",
              "scale": {
                "domain": ["Czysty Mg", "Niepokryty Mg/SiC", "Pokryty Mg/SiC", "Tło"],
                "range": ["white", "white", "#111", "transparent"]
              },
              "legend": {"title": null, "legendX": 30.5, "legendY": 12, "labelOffset": 6.5}
            },
            "stroke": {
              "field": "series", "type": "nominal",
              "scale": {
                "domain": ["Czysty Mg", "Niepokryty Mg/SiC", "Pokryty Mg/SiC", "Tło"],
                "range": ["#666", "#666", "#444", "#555"]
              },
              "legend": {"title": null, "legendX": 30.5, "legendY": 12, "labelOffset": 6.5}
            }
          }
        },
        {
          "data": {"values": [{"note": "f = 1 Hz"}]},
          "mark": {"type": "text", "align": "left", "baseline": "alphabetic", "fontSize": 14.5, "fontStyle": "italic", "color": "#222"},
          "encoding": {
            "x": {"datum": 12.2, "type": "quantitative"},
            "y": {"datum": 0.0675, "type": "quantitative"},
            "text": {"field": "note"}
          }
        },
        {
          "data": {"values": [{"note": "ε = 2,0 x 10⁻⁴"}]},
          "mark": {"type": "text", "align": "left", "baseline": "alphabetic", "fontSize": 14.5, "fontStyle": "italic", "color": "#222"},
          "encoding": {
            "x": {"datum": 12.2, "type": "quantitative"},
            "y": {"datum": 0.0624, "type": "quantitative"},
            "text": {"field": "note"}
          }
        }
      ]
    }
  ]
}
